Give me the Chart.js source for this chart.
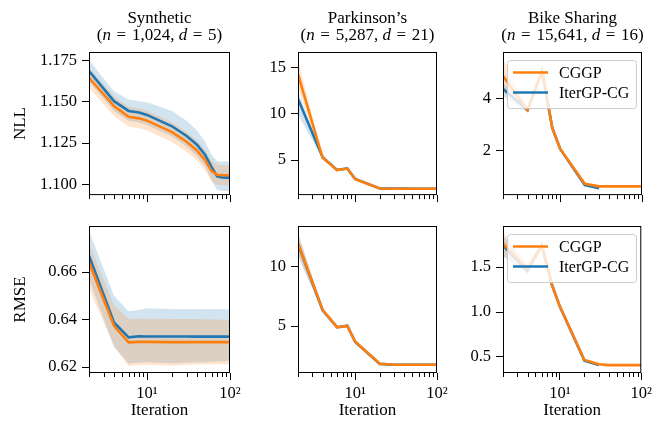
<!DOCTYPE html>
<html lang="en">
<head>
<meta charset="UTF-8">
<title>CGGP vs IterGP-CG</title>
<script src="https://cdn.jsdelivr.net/npm/chart.js"></script>
<style>
    body { margin: 0; background: #fff; }
    #figure { position: relative; width: 656px; height: 428px; overflow: hidden; background: #fff; }
    #figure canvas { position: absolute; }
</style>
</head>
<body>
<div id="figure">
    <canvas id="nllSynth" width="247" height="210" style="left:0;top:0"></canvas>
    <canvas id="nllPark" width="214" height="210" style="left:240px;top:0"></canvas>
    <canvas id="nllBike" width="209" height="210" style="left:447px;top:0"></canvas>
    <canvas id="rmseSynth" width="247" height="218" style="left:0;top:210px"></canvas>
    <canvas id="rmsePark" width="214" height="218" style="left:240px;top:210px"></canvas>
    <canvas id="rmseBike" width="209" height="218" style="left:447px;top:210px"></canvas>
</div>
<script>
// x values and ticks
const iterations = [2, 4, 6, 8, 10, 20, 30, 40, 50, 60, 70, 80, 90, 100];
const xTickValues = [2, 3, 4, 5, 6, 7, 8, 9, 10, 20, 30, 40, 50, 60, 70, 80, 90, 100];
const xMajorTicks = [10, 100];
const xTickLabels = ['10\u00b9', '10\u00b2'];

const seriesNames = ['CGGP', 'IterGP-CG'];
const datasetNames = ['Synthetic', 'Parkinson\u2019s', 'Bike Sharing'];
const datasetN = ['1,024', '5,287', '15,641'];
const datasetD = ['5', '21', '16'];

// Synthetic - NLL
const synthNllCggp   = [1.1645, 1.1474, 1.1410, 1.1400, 1.1386, 1.1317, 1.1258, 1.1205, 1.1148, 1.1080, 1.1058, 1.1056, 1.1055, 1.1055];
const synthNllCggpHi = [1.1705, 1.1534, 1.1470, 1.1460, 1.1446, 1.1377, 1.1318, 1.1266, 1.1210, 1.1142, 1.1120, 1.1118, 1.1117, 1.1117];
const synthNllCggpLo = [1.1585, 1.1414, 1.1350, 1.1340, 1.1326, 1.1257, 1.1198, 1.1144, 1.1086, 1.1018, 1.0996, 1.0994, 1.0993, 1.0993];
const synthNllIter   = [1.1687, 1.1504, 1.1445, 1.1435, 1.1421, 1.1352, 1.1293, 1.1240, 1.1180, 1.1105, 1.1048, 1.1042, 1.1041, 1.1041];
const synthNllIterHi = [1.1754, 1.1563, 1.1514, 1.1504, 1.1498, 1.1445, 1.1386, 1.1327, 1.1258, 1.1180, 1.1140, 1.1138, 1.1140, 1.1139];
const synthNllIterLo = [1.1622, 1.1445, 1.1385, 1.1375, 1.1360, 1.1290, 1.1230, 1.1170, 1.1110, 1.1025, 1.0965, 1.0962, 1.0960, 1.0960];

// Synthetic - RMSE
const synthRmseCggp   = [0.6641, 0.6374, 0.6304, 0.6306, 0.6306, 0.6305, 0.6305, 0.6305, 0.6305, 0.6305, 0.6305, 0.6305, 0.6305, 0.6305];
const synthRmseCggpHi = [0.6720, 0.6460, 0.6402, 0.6404, 0.6403, 0.6402, 0.6402, 0.6402, 0.6401, 0.6400, 0.6400, 0.6399, 0.6399, 0.6399];
const synthRmseCggpLo = [0.6530, 0.6290, 0.6205, 0.6208, 0.6210, 0.6206, 0.6210, 0.6211, 0.6212, 0.6212, 0.6213, 0.6212, 0.6212, 0.6212];
const synthRmseIter   = [0.6669, 0.6388, 0.6325, 0.6330, 0.6329, 0.6329, 0.6329, 0.6328, 0.6328, 0.6328, 0.6328, 0.6328, 0.6328, 0.6328];
const synthRmseIterHi = [0.6774, 0.6500, 0.6435, 0.6440, 0.6448, 0.6444, 0.6443, 0.6444, 0.6443, 0.6444, 0.6443, 0.6445, 0.6442, 0.6444];
const synthRmseIterLo = [0.6570, 0.6285, 0.6215, 0.6218, 0.6220, 0.6216, 0.6218, 0.6220, 0.6220, 0.6222, 0.6223, 0.6225, 0.6226, 0.6227];

// Parkinson's - NLL
const parkNllCggp   = [14.26, 5.24, 3.91, 4.08, 2.93, 1.92, 1.90, 1.90, 1.89, 1.89, 1.89, 1.89, 1.89, 1.89];
const parkNllCggpHi = [15.80, 5.40, 4.02, 4.20, 3.02, 1.97, 1.94, 1.94, 1.93, 1.93, 1.93, 1.93, 1.93, 1.93];
const parkNllCggpLo = [12.80, 5.08, 3.80, 3.96, 2.84, 1.87, 1.86, 1.86, 1.85, 1.85, 1.85, 1.85, 1.85, 1.85];
const parkNllIter   = [11.60, 5.30, 3.93, 4.10, 2.95, 1.93, 1.91, 1.91, 1.90, 1.90, 1.90, 1.90, 1.90, 1.90];
const parkNllIterHi = [12.40, 5.45, 4.05, 4.22, 3.04, 1.98, 1.95, 1.95, 1.94, 1.94, 1.94, 1.94, 1.94, 1.94];
const parkNllIterLo = [9.90, 5.15, 3.82, 3.98, 2.86, 1.88, 1.87, 1.87, 1.86, 1.86, 1.86, 1.86, 1.86, 1.86];

// Parkinson's - RMSE
const parkRmseCggp   = [12.00, 6.36, 4.89, 5.00, 3.67, 1.80, 1.72, 1.72, 1.72, 1.72, 1.72, 1.72, 1.72, 1.72];
const parkRmseCggpHi = [12.90, 6.50, 4.98, 5.10, 3.75, 1.85, 1.76, 1.76, 1.76, 1.76, 1.76, 1.76, 1.76, 1.76];
const parkRmseCggpLo = [11.00, 6.22, 4.80, 4.90, 3.59, 1.75, 1.68, 1.68, 1.68, 1.68, 1.68, 1.68, 1.68, 1.68];
const parkRmseIter   = [11.95, 6.33, 4.90, 5.02, 3.66, 1.79, 1.72, 1.72, 1.72, 1.72, 1.72, 1.72, 1.72, 1.72];
const parkRmseIterHi = [12.85, 6.47, 4.99, 5.12, 3.74, 1.84, 1.76, 1.76, 1.76, 1.76, 1.76, 1.76, 1.76, 1.76];
const parkRmseIterLo = [10.95, 6.19, 4.81, 4.92, 3.58, 1.74, 1.68, 1.68, 1.68, 1.68, 1.68, 1.68, 1.68, 1.68];

// Bike Sharing - NLL (IterGP-CG stops after 30 iterations)
const bikeNllCggp   = [4.88, 3.56, 5.07, 2.87, 2.05, 0.70, 0.60, 0.60, 0.60, 0.60, 0.60, 0.60, 0.60, 0.60];
const bikeNllCggpHi = [5.56, 3.66, 5.12, 2.92, 2.09, 0.73, 0.62, 0.62, 0.62, 0.62, 0.62, 0.62, 0.62, 0.62];
const bikeNllCggpLo = [4.25, 3.46, 5.02, 2.82, 2.01, 0.67, 0.58, 0.58, 0.58, 0.58, 0.58, 0.58, 0.58, 0.58];
const bikeNllIter   = [4.38, 3.56, 5.07, 2.87, 2.05, 0.65, 0.53, null, null, null, null, null, null, null];
const bikeNllIterHi = [4.65, 3.64, 5.11, 2.91, 2.09, 0.68, 0.55, null, null, null, null, null, null, null];
const bikeNllIterLo = [4.10, 3.48, 5.03, 2.83, 2.01, 0.62, 0.51, null, null, null, null, null, null, null];

// Bike Sharing - RMSE
const bikeRmseCggp   = [1.76, 1.48, 1.744, 1.30, 1.06, 0.467, 0.42, 0.41, 0.41, 0.41, 0.41, 0.41, 0.41, 0.41];
const bikeRmseCggpHi = [1.89, 1.53, 1.77, 1.32, 1.08, 0.48, 0.43, 0.42, 0.42, 0.42, 0.42, 0.42, 0.42, 0.42];
const bikeRmseCggpLo = [1.63, 1.43, 1.72, 1.28, 1.04, 0.455, 0.41, 0.40, 0.40, 0.40, 0.40, 0.40, 0.40, 0.40];
const bikeRmseIter   = [1.74, 1.46, 1.744, 1.30, 1.06, 0.46, 0.41, null, null, null, null, null, null, null];
const bikeRmseIterHi = [1.85, 1.50, 1.77, 1.32, 1.08, 0.47, 0.42, null, null, null, null, null, null, null];
const bikeRmseIterLo = [1.62, 1.42, 1.72, 1.28, 1.04, 0.45, 0.40, null, null, null, null, null, null, null];

// y-axis ticks
const synthNllTicks = [1.100, 1.125, 1.150, 1.175];
const parkNllTicks = [5, 10, 15];
const bikeNllTicks = [2, 4];
const synthRmseTicks = [0.62, 0.64, 0.66];
const parkRmseTicks = [5, 10];
const bikeRmseTicks = [0.5, 1.0, 1.5];

const ORANGE = '#ff7f0e';
const BLUE = '#1f77b4';
const SERIF = "'Liberation Serif', 'DejaVu Serif', serif";

Chart.defaults.font.family = SERIF;
Chart.defaults.color = '#000';

// layout per column / row (canvas coords)
const colYWidth = [89, 58, 56];
const colPadRight = [17, 17, 14];
const rowPadTop = [52, 16];
const rowXHeight = [11, 55];

function pts(ys) {
    return iterations.map((x, i) => ({ x: x, y: ys[i] }));
}

function line(label, ys, color) {
    return { label: label, data: pts(ys), borderColor: color, borderWidth: 2.6, pointRadius: 0, fill: false, tension: 0 };
}

function bandEdge(ys, color, fill) {
    return { data: pts(ys), borderColor: 'rgba(0,0,0,0)', borderWidth: 0, pointRadius: 0, fill: fill, backgroundColor: color, tension: 0 };
}

// spines + minor x ticks
const framePlugin = {
    id: 'frame',
    afterDatasetsDraw(chart) {
        const { ctx, chartArea: a, scales: { x } } = chart;
        ctx.save();
        ctx.strokeStyle = '#000';
        ctx.lineWidth = 1;
        ctx.strokeRect(a.left + 0.5, a.top + 0.5, a.width - 1, a.height - 1);
        xTickValues.filter(v => !xMajorTicks.includes(v)).forEach(v => {
            const px = Math.round(x.getPixelForValue(v)) + 0.5;
            ctx.beginPath();
            ctx.moveTo(px, a.bottom);
            ctx.lineTo(px, a.bottom + 4);
            ctx.stroke();
        });
        ctx.restore();
    }
};

function legendPlugin() {
    return {
        id: 'boxLegend',
        afterDraw(chart) {
            const { ctx, chartArea: a } = chart;
            const x0 = a.left + 4, y0 = a.top + 8, w = 129, h = 48, r = 3;
            ctx.save();
            ctx.beginPath();
            ctx.roundRect(x0 + 0.5, y0 + 0.5, w, h, r);
            ctx.fillStyle = 'rgba(255,255,255,0.8)';
            ctx.fill();
            ctx.strokeStyle = '#cccccc';
            ctx.lineWidth = 1;
            ctx.stroke();
            [ORANGE, BLUE].forEach((c, i) => {
                const yy = y0 + 12.5 + i * 20;
                ctx.beginPath();
                ctx.moveTo(x0 + 6, yy);
                ctx.lineTo(x0 + 41, yy);
                ctx.strokeStyle = c;
                ctx.lineWidth = 2.6;
                ctx.stroke();
                ctx.fillStyle = '#000';
                ctx.font = '16px ' + SERIF;
                ctx.textBaseline = 'middle';
                ctx.textAlign = 'left';
                ctx.fillText(seriesNames[i], x0 + 52, yy + 1);
            });
            ctx.restore();
        }
    };
}

function titlePlugin(col) {
    return {
        id: 'panelTitle',
        afterDraw(chart) {
            const { ctx, chartArea: a } = chart;
            const cx = (a.left + a.right) / 2;
            const normal = '17px ' + SERIF, italic = 'italic 17px ' + SERIF;
            ctx.save();
            ctx.fillStyle = '#000';
            ctx.textBaseline = 'alphabetic';
            ctx.textAlign = 'left';
            ctx.font = normal;
            const w1 = ctx.measureText(datasetNames[col]).width;
            ctx.fillText(datasetNames[col], cx - w1 / 2, a.top - 29);
            const parts = [
                ['(', normal], ['n', italic], ['\u2004=\u2004' + datasetN[col] + ', ', normal],
                ['d', italic], ['\u2004=\u2004' + datasetD[col] + ')', normal]
            ];
            let total = 0;
            parts.forEach(p => { ctx.font = p[1]; total += ctx.measureText(p[0]).width; });
            let x = cx - total / 2;
            parts.forEach(p => {
                ctx.font = p[1];
                ctx.fillText(p[0], x, a.top - 12);
                x += ctx.measureText(p[0]).width;
            });
            ctx.restore();
        }
    };
}

function panel(id, row, col, metric, cggp, cggpHi, cggpLo, iter, iterHi, iterLo, yMin, yMax, yTicks, decimals) {
    const plugins = [framePlugin];
    if (col === 2) plugins.push(legendPlugin());
    if (row === 0) plugins.push(titlePlugin(col));
    new Chart(document.getElementById(id), {
        type: 'line',
        data: {
            datasets: [
                line(seriesNames[0], cggp, ORANGE),
                line(seriesNames[1], iter, BLUE),
                bandEdge(cggpHi, 'rgba(255,127,14,0.2)', '+1'),
                bandEdge(cggpLo, 'rgba(255,127,14,0.2)', false),
                bandEdge(iterHi, 'rgba(31,119,180,0.2)', '+1'),
                bandEdge(iterLo, 'rgba(31,119,180,0.2)', false)
            ]
        },
        plugins: plugins,
        options: {
            responsive: false,
            animation: false,
            events: [],
            layout: { padding: { left: 0, right: colPadRight[col], top: rowPadTop[row], bottom: 0 } },
            plugins: {
                legend: { display: false },
                tooltip: { enabled: false },
                filler: { drawTime: 'beforeDatasetsDraw' }
            },
            scales: {
                x: {
                    type: 'logarithmic',
                    min: 2,
                    max: 100,
                    afterBuildTicks: s => { s.ticks = xTickValues.map(v => ({ value: v, major: xMajorTicks.includes(v) })); },
                    afterFit: s => { s.height = rowXHeight[row]; },
                    border: { display: false },
                    grid: {
                        drawOnChartArea: false,
                        tickLength: 7,
                        tickWidth: 1,
                        tickColor: c => (c.tick && xMajorTicks.includes(c.tick.value)) ? '#000' : 'rgba(0,0,0,0)'
                    },
                    ticks: {
                        autoSkip: false,
                        maxRotation: 0,
                        padding: 4,
                        font: { size: 16.5 },
                        callback: v => row === 1 && xMajorTicks.includes(v) ? xTickLabels[xMajorTicks.indexOf(v)] : ''
                    },
                    title: { display: row === 1, text: 'Iteration', font: { size: 17 }, padding: { top: 0, bottom: 7 } }
                },
                y: {
                    min: yMin,
                    max: yMax,
                    afterBuildTicks: s => { s.ticks = yTicks.map(v => ({ value: v })); },
                    afterFit: s => { s.width = colYWidth[col]; },
                    border: { display: false },
                    grid: { drawOnChartArea: false, tickLength: 7, tickWidth: 1, tickColor: '#000' },
                    ticks: { padding: 5, font: { size: 16.5 }, callback: v => Number(v).toFixed(decimals) },
                    title: { display: col === 0, text: metric, font: { size: 17 }, padding: { top: 10.8, bottom: 0 } }
                }
            }
        }
    });
}

panel('nllSynth', 0, 0, 'NLL', synthNllCggp, synthNllCggpHi, synthNllCggpLo, synthNllIter, synthNllIterHi, synthNllIterLo, 1.0935, 1.1802, synthNllTicks, 3);
panel('nllPark', 0, 1, 'NLL', parkNllCggp, parkNllCggpHi, parkNllCggpLo, parkNllIter, parkNllIterHi, parkNllIterLo, 1.21, 16.68, parkNllTicks, 0);
panel('nllBike', 0, 2, 'NLL', bikeNllCggp, bikeNllCggpHi, bikeNllCggpLo, bikeNllIter, bikeNllIterHi, bikeNllIterLo, 0.26, 5.81, bikeNllTicks, 0);
panel('rmseSynth', 1, 0, 'RMSE', synthRmseCggp, synthRmseCggpHi, synthRmseCggpLo, synthRmseIter, synthRmseIterHi, synthRmseIterLo, 0.6175, 0.6794, synthRmseTicks, 2);
panel('rmsePark', 1, 1, 'RMSE', parkRmseCggp, parkRmseCggpHi, parkRmseCggpLo, parkRmseIter, parkRmseIterHi, parkRmseIterLo, 1.02, 13.47, parkRmseTicks, 0);
panel('rmseBike', 1, 2, 'RMSE', bikeRmseCggp, bikeRmseCggpHi, bikeRmseCggpLo, bikeRmseIter, bikeRmseIterHi, bikeRmseIterLo, 0.322, 1.956, bikeRmseTicks, 1);
</script>
</body>
</html>
